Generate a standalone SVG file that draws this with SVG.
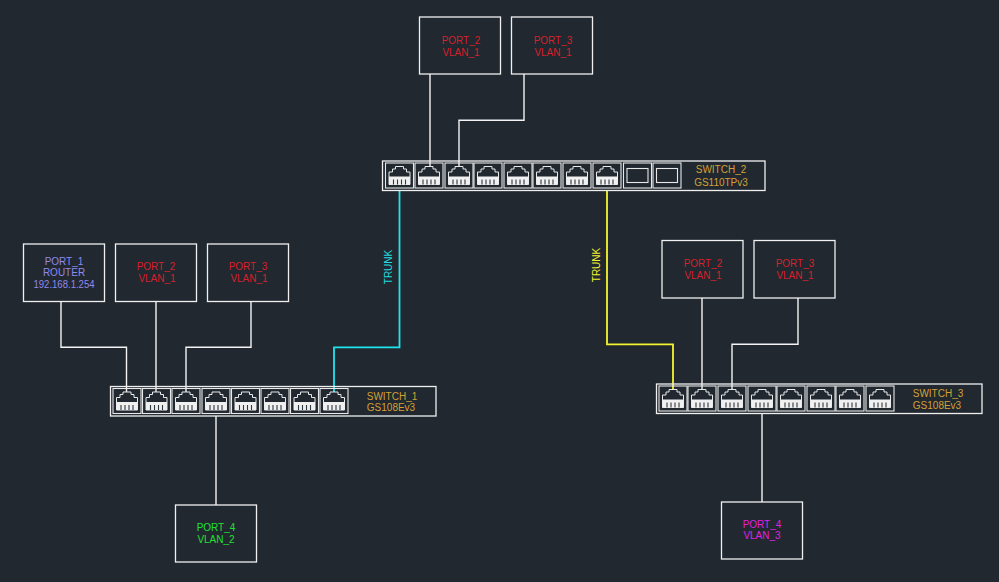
<svg xmlns="http://www.w3.org/2000/svg" width="999" height="582" viewBox="0 0 999 582">
<style>
.box{fill:none;stroke:#f0f0f0;stroke-width:1.3}
.c{fill:none;stroke:#f4f4f4;stroke-width:1.4}
text{font-family:"Liberation Sans",Arial,sans-serif;font-size:10px;text-anchor:middle}
.r{fill:#d8202a}.o{fill:#d4a035}.p{fill:#9088ee}.g{fill:#22e030}.m{fill:#e020e0}
</style>
<defs>
<g id="port">
<rect x="-14" y="-12.500" width="28" height="25" fill="none" stroke="#e8e8e8" stroke-width="1.1"/>
<path d="M-10.500 9V-3.500H-7V-6.500H-4V-9H4V-6.500H7V-3.500H10.500V9Z" fill="none" stroke="#e8e8e8" stroke-width="1"/>
<rect x="-10.500" y="1" width="21" height="8" fill="#f0f0f0"/>
<path d="M-6 4V9M-2 4V9M2 4V9M6 4V9" stroke="#303840" stroke-width="1.100"/>
</g>
<g id="sfp">
<rect x="-14" y="-12.500" width="28" height="25" fill="none" stroke="#e8e8e8" stroke-width="1.1"/>
<rect x="-10.500" y="-7" width="21" height="14" fill="none" stroke="#e8e8e8" stroke-width="1.1"/>
</g>
</defs>
<rect width="999" height="582" fill="#212830"/>
<g id="connectors">
<path class="c" d="M61 301V347.300H126.500V392"/>
<path class="c" d="M156 301V392"/>
<path class="c" d="M251 301V347.300H186V392"/>
<path class="c" d="M216 416V505"/>
<path class="c" d="M430 74V166"/>
<path class="c" d="M524 74V120.300H459V166"/>
<path class="c" d="M702 298V389"/>
<path class="c" d="M798 298V344.300H732V389"/>
<path class="c" d="M762 413V502"/>
<path fill="none" stroke="#20e4ec" stroke-width="1.800" d="M399.500 190V347.300H334V392"/>
<path fill="none" stroke="#f4f430" stroke-width="1.800" d="M607 190V344.300H673V389"/>
<text transform="translate(392 267) rotate(-90)" fill="#20dce4">TRUNK</text>
<text transform="translate(600 265) rotate(-90)" fill="#f0f030">TRUNK</text>
</g>
<g id="switch1">
<rect class="box" x="110.500" y="386.500" width="325.500" height="29.500"/>
<use href="#port" x="127" y="401"/><use href="#port" x="156.500" y="401"/><use href="#port" x="186" y="401"/><use href="#port" x="216" y="401"/><use href="#port" x="245.500" y="401"/><use href="#port" x="275" y="401"/><use href="#port" x="304.500" y="401"/><use href="#port" x="334" y="401"/>
<text class="o" x="392" y="399.500">SWITCH_1</text><text class="o" x="391" y="411">GS108Ev3</text>
</g>
<g id="switch2">
<rect class="box" x="382.500" y="161" width="382.500" height="29.500"/>
<use href="#port" x="399.500" y="175.500"/><use href="#port" x="429" y="175.500"/><use href="#port" x="459" y="175.500"/><use href="#port" x="488" y="175.500"/><use href="#port" x="518" y="175.500"/><use href="#port" x="547" y="175.500"/><use href="#port" x="577" y="175.500"/><use href="#port" x="607" y="175.500"/>
<use href="#sfp" x="637.500" y="175.500"/><use href="#sfp" x="667" y="175.500"/>
<text class="o" x="721" y="173">SWITCH_2</text><text class="o" x="721" y="185.500">GS110TPv3</text>
</g>
<g id="switch3">
<rect class="box" x="656.500" y="384" width="325.500" height="29.500"/>
<use href="#port" x="673" y="398.500"/><use href="#port" x="702" y="398.500"/><use href="#port" x="732" y="398.500"/><use href="#port" x="762" y="398.500"/><use href="#port" x="791" y="398.500"/><use href="#port" x="821" y="398.500"/><use href="#port" x="850" y="398.500"/><use href="#port" x="880" y="398.500"/>
<text class="o" x="938" y="397">SWITCH_3</text><text class="o" x="937" y="408.500">GS108Ev3</text>
</g>
<g id="s1p1"><rect class="box" x="23.500" y="244" width="81" height="57.500"/><text class="p" x="64" y="264.500">PORT_1</text><text class="p" x="64" y="276">ROUTER</text><text class="p" x="64" y="288" textLength="61" lengthAdjust="spacingAndGlyphs">192.168.1.254</text></g>
<g id="s1p2"><rect class="box" x="115.500" y="244" width="81" height="57.500"/><text class="r" x="156" y="270">PORT_2</text><text class="r" x="157" y="281.500">VLAN_1</text></g>
<g id="s1p3"><rect class="box" x="207.500" y="244" width="81" height="57.500"/><text class="r" x="248" y="270">PORT_3</text><text class="r" x="249" y="281.500">VLAN_1</text></g>
<g id="s1p4"><rect class="box" x="175.500" y="505" width="81" height="57"/><text class="g" x="216" y="530.500">PORT_4</text><text class="g" x="216" y="542.500">VLAN_2</text></g>
<g id="s2p2"><rect class="box" x="419.500" y="17" width="81" height="57"/><text class="r" x="461" y="44">PORT_2</text><text class="r" x="461" y="55.500">VLAN_1</text></g>
<g id="s2p3"><rect class="box" x="511.500" y="17" width="81" height="57"/><text class="r" x="553" y="44">PORT_3</text><text class="r" x="553" y="55.500">VLAN_1</text></g>
<g id="s3p2"><rect class="box" x="662" y="240.500" width="81" height="57.500"/><text class="r" x="703" y="267">PORT_2</text><text class="r" x="703" y="278.500">VLAN_1</text></g>
<g id="s3p3"><rect class="box" x="754" y="240.500" width="81" height="57.500"/><text class="r" x="795" y="267">PORT_3</text><text class="r" x="795" y="278.500">VLAN_1</text></g>
<g id="s3p4"><rect class="box" x="721.500" y="502" width="81" height="57"/><text class="m" x="762" y="527.500">PORT_4</text><text class="m" x="762" y="539">VLAN_3</text></g>
</svg>
